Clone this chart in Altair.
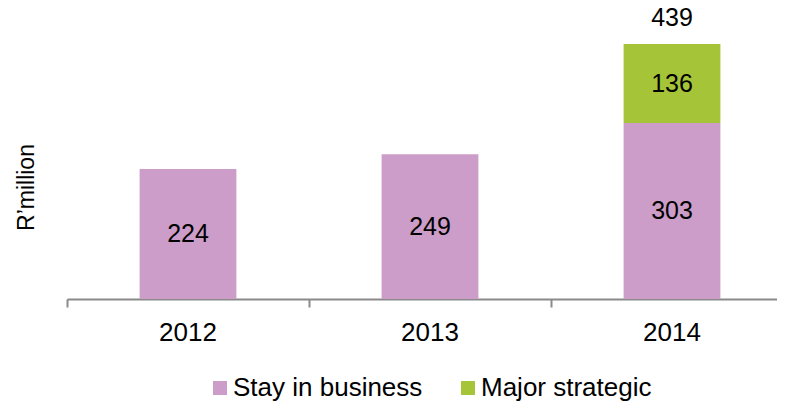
import altair as alt
import pandas as pd

years = ["2012", "2013", "2014"]
stay = [224, 249, 303]
major = [0, 0, 136]
series = ["Stay in business", "Major strategic"]
colors = ["#CC9DC8", "#A6C437"]

rows = []
for i, y in enumerate(years):
    base = 0
    for k, (s, vals) in enumerate(zip(series, [stay, major])):
        v = vals[i]
        if v > 0:
            rows.append(dict(year=y, series=s, value=v, start=base, end=base + v,
                             mid=base + v / 2, order=k))
        base += v
df = pd.DataFrame(rows)

tot_rows = [dict(year=y, total=a + b) for y, a, b in zip(years, stay, major) if b > 0]
totals = pd.DataFrame(tot_rows)

FONT = "Liberation Sans"

xscale = alt.Scale(domain=years, range=[0, 726], paddingInner=0.6, paddingOuter=0.3)
yscale = alt.Scale(domain=[0, 501])

x_enc = alt.X("year:N", scale=xscale, sort=years,
              axis=alt.Axis(title=None, labelAngle=0, labelFontSize=26, labelColor="black",
                            labelFont=FONT, labelPadding=12, domainColor="#8A8A8A",
                            domainWidth=2, tickColor="#8A8A8A", tickWidth=2, tickSize=8,
                            bandPosition=-0.75, tickExtra=False, values=years, grid=False))

bars = alt.Chart(df).mark_bar().encode(
    x=x_enc,
    y=alt.Y("start:Q", scale=yscale,
            axis=alt.Axis(title="R\u2019million", labels=False, ticks=False, domain=False,
                          grid=False, titleFontSize=23, titleFont=FONT, titleColor="black",
                          titleFontWeight="normal", titleX=-34, titleY=179,
                          titleAlign="center", titleBaseline="alphabetic", titleAngle=270)),
    y2="end:Q",
    color=alt.Color("series:N", scale=alt.Scale(domain=series, range=colors),
                    legend=alt.Legend(title=None, orient="none", legendX=140, legendY=367,
                                      direction="horizontal", symbolType="square",
                                      symbolSize=196, symbolStrokeWidth=0,
                                      labelFontSize=26, labelFont=FONT, labelColor="black",
                                      labelOffset=0, columnPadding=32, labelLimit=0)),
    order=alt.Order("order:Q"),
)

labels = alt.Chart(df).mark_text(fontSize=25, font=FONT, color="black", baseline="middle").encode(
    x=alt.X("year:N", scale=xscale, sort=years),
    y=alt.Y("mid:Q", scale=yscale),
    text="value:Q",
)

tot = alt.Chart(totals).mark_text(fontSize=25, font=FONT, color="black", baseline="middle",
                                  dy=-26).encode(
    x=alt.X("year:N", scale=xscale, sort=years),
    y=alt.Y("total:Q", scale=yscale),
    text="total:Q",
)

chart = alt.layer(bars, labels, tot).properties(
    width=710, height=291,
    autosize=alt.AutoSizeParams(type="none"),
    padding={"left": 59, "top": 0, "right": 0, "bottom": 103},
).configure(font=FONT).configure_view(stroke=None)

chart.save("out.html", embed_options={"renderer": "svg", "actions": False})
